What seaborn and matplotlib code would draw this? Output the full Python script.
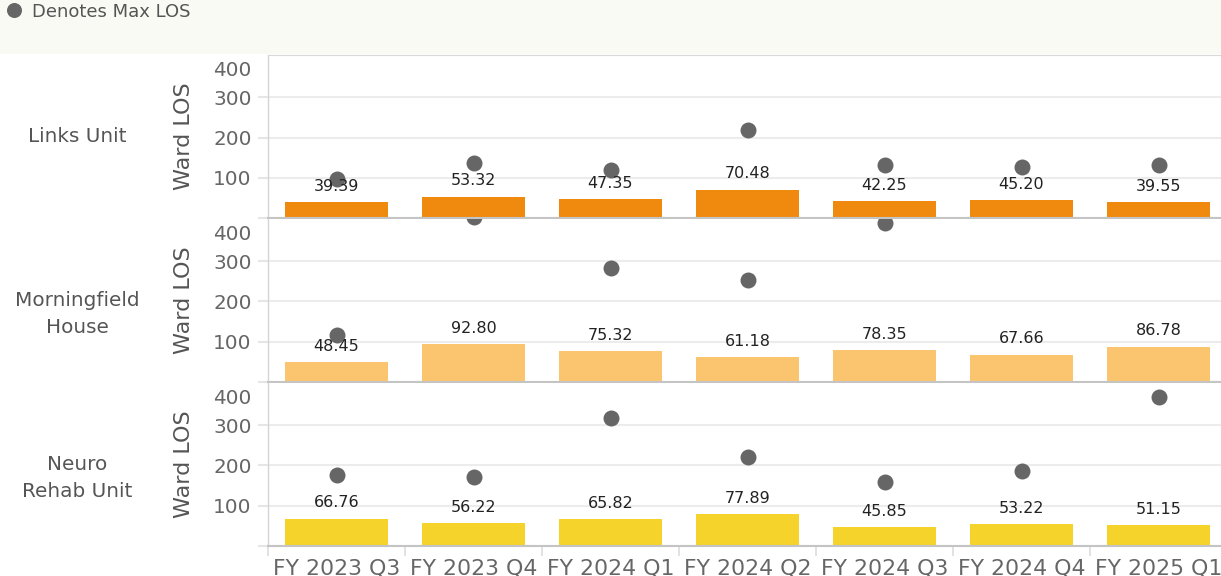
import matplotlib
matplotlib.use("Agg")
import matplotlib.pyplot as plt
from matplotlib.patches import Rectangle
from matplotlib.lines import Line2D
import numpy as np
import pandas as pd
import seaborn as sns

# ---------------- data ----------------
quarters = ["FY 2023 Q3", "FY 2023 Q4", "FY 2024 Q1", "FY 2024 Q2",
            "FY 2024 Q3", "FY 2024 Q4", "FY 2025 Q1"]
wards = ["Links Unit", "Morningfield\nHouse", "Neuro\nRehab Unit"]

links_avg = [39.39, 53.32, 47.35, 70.48, 42.25, 45.20, 39.55]
links_max = [98, 137, 119, 218, 131, 127, 132]

morning_avg = [48.45, 92.80, 75.32, 61.18, 78.35, 67.66, 86.78]
morning_max = [117, 411, 284, 253, 395, np.nan, np.nan]

neuro_avg = [66.76, 56.22, 65.82, 77.89, 45.85, 53.22, 51.15]
neuro_max = [175, 172, 319, 221, 158, 185, 370]

ytick_vals = [0, 100, 200, 300]
ytick_labels = ["", "100", "200", "300"]
top_tick = 400

bar_colors = ["#F08A0E", "#FAC56E", "#F5D32A"]
dot_color = "#666666"

# ---------------- figure ----------------
sns.set_style("white")
plt.rcParams["font.family"] = ["DejaVu Sans"]

W, H = 1221, 576
fig = plt.figure(figsize=(W / 100, H / 100), dpi=100)
fig.patch.set_facecolor("white")

# header band
fig.add_artist(Rectangle((0, 1 - 54 / H), 1, 54 / H, transform=fig.transFigure,
                         facecolor="#FAFAF5", edgecolor="none", zorder=0))
fig.add_artist(Line2D([14 / W], [1 - 9.5 / H], marker="o", markersize=9.8,
                      color=dot_color, linestyle="none", transform=fig.transFigure))
fig.text(32 / W, 1 - 12 / H, "Denotes Max LOS", ha="left", va="center",
         fontsize=13, color="#555555")

x0_px, x1_px = 268, 1227
panels_px = [(55, 218.3), (219, 381.7), (383, 545.7)]
row_label_y = [137, 314, 478]

avgs = [links_avg, morning_avg, neuro_avg]
maxs = [links_max, morning_max, neuro_max]

for i, (ytop, ybot) in enumerate(panels_px):
    rect = [x0_px / W, 1 - ybot / H, (x1_px - x0_px) / W, (ybot - ytop) / H]
    ax = fig.add_axes(rect)
    ax.set_facecolor("white")
    df = pd.DataFrame({"quarter": quarters, "avg": avgs[i], "max": maxs[i]})
    sns.barplot(data=df, x="quarter", y="avg", order=quarters, color=bar_colors[i],
                saturation=1, width=0.75, linewidth=0, errorbar=None, ax=ax, zorder=2)
    sns.stripplot(data=df, x="quarter", y="max", order=quarters, jitter=False,
                  color=dot_color, size=11.5, linewidth=0, ax=ax, zorder=4)
    for j, v in enumerate(avgs[i]):
        ax.annotate(f"{v:.2f}", (j, v), xytext=(0, 11.5), textcoords="offset points",
                    ha="center", va="center", fontsize=11.5, color="#222222", zorder=6)

    ax.set_xlim(-0.5, 6.5)
    ax.set_ylim(0, 405)
    ax.set_yticks(ytick_vals)
    ax.set_yticklabels(ytick_labels)
    ax.set_xlabel("")
    ax.set_ylabel("")
    ax.yaxis.grid(True, color="#ececec", linewidth=1.5)
    ax.set_axisbelow(True)
    ax.tick_params(axis="y", length=7, color="#e6e6e6", width=1.5,
                   labelsize=14.4, labelcolor="#666666", pad=4.7, left=True)
    ax.annotate(str(top_tick), xy=(0, top_tick), xycoords=("axes fraction", "data"),
                xytext=(-11.7, -9.5), textcoords="offset points", ha="right",
                va="center", fontsize=14.4, color="#666666", annotation_clip=False)

    ax.spines["right"].set_visible(False)
    ax.spines["top"].set_visible(i == 0)
    ax.spines["top"].set_color("#d8d8d8")
    ax.spines["left"].set_color("#d4d4d4")
    ax.spines["left"].set_linewidth(1)
    ax.spines["bottom"].set_color("#c4c4c4")
    ax.spines["bottom"].set_linewidth(1.5)

    if i < 2:
        ax.tick_params(axis="x", length=0, labelbottom=False)
    else:
        ax.tick_params(axis="x", which="major", length=0, labelsize=15.8,
                       labelcolor="#666666", pad=9)
        ax.set_xticks(np.arange(-0.5, 7, 1), minor=True)
        ax.tick_params(axis="x", which="minor", length=7, color="#dddddd",
                       width=1.2, bottom=True)

    fig.text(184 / W, 1 - (ytop + ybot) / 2 / H, "Ward LOS", rotation=90,
             ha="center", va="center", fontsize=16, color="#555555")
    fig.text(77.5 / W, 1 - row_label_y[i] / H, wards[i], ha="center", va="center",
             fontsize=14.4, color="#555555", linespacing=1.55)

fig.savefig("out.png", dpi=100)
